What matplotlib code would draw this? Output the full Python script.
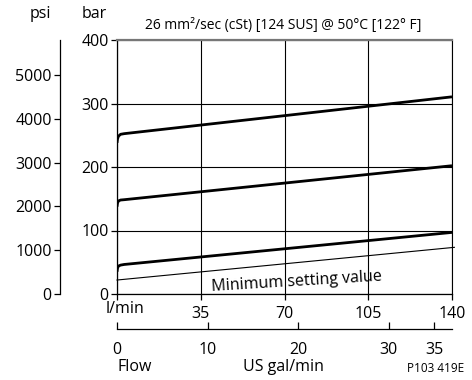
import matplotlib.pyplot as plt
import matplotlib.ticker as mticker

plt.rcParams['font.family'] = ['Open Sans', 'DejaVu Sans']

W, H = 472, 380

# ---- data (bar vs l/min) ----
flow_hi = [0, 0.2, 0.6, 1.5, 3, 140]
bar_hi = [238, 244, 248.5, 251.5, 252.5, 310.5]
flow_mid = [0, 0.2, 0.6, 1.5, 3, 140]
bar_mid = [137.5, 143, 146.5, 148, 148.5, 202]
flow_lo = [0, 0.2, 0.6, 1.5, 3, 140]
bar_lo = [35, 40.5, 44, 45.5, 46.5, 97]
flow_min = [0, 141]
bar_min = [22, 73.5]

lmin_ticks = [0, 35, 70, 105, 140]
lmin_labels = ["", "35", "70", "105", "140"]
bar_ticks = [0, 100, 200, 300, 400]
psi_ticks = [0, 1000, 2000, 3000, 4000, 5000]
gal_ticks = [0, 10, 20, 30, 35]

BAR2PSI = 14.5038
GAL2L = 3.78541
FS = 11.5

fig = plt.figure(figsize=(W / 100, H / 100), dpi=100)
x0, x1, y0, y1 = 117, 452, 294, 40
ax = fig.add_axes([x0 / W, 1 - y0 / H, (x1 - x0) / W, (y0 - y1) / H])

for xs, ys in [(flow_hi, bar_hi), (flow_mid, bar_mid), (flow_lo, bar_lo)]:
    ax.plot(xs, ys, color="black", lw=2.0, solid_capstyle="butt", zorder=3)
ax.plot(flow_min, bar_min, color="black", lw=0.8, zorder=3, clip_on=False)

ax.set_xlim(0, 140)
ax.set_ylim(0, 400)
ax.set_xticks(lmin_ticks)
ax.set_xticklabels(lmin_labels)
ax.set_yticks(bar_ticks)
ax.grid(True, color="black", lw=0.8)
ax.tick_params(axis="both", direction="out", length=4, width=0.9, labelsize=FS, pad=2)
ax.tick_params(axis="x", pad=5)
ax.spines["top"].set_color("#777777")
ax.spines["top"].set_linewidth(1.6)
ax.spines["right"].set_linewidth(0.8)
ax.spines["left"].set_linewidth(0.9)
ax.spines["bottom"].set_linewidth(0.9)
ax.set_axisbelow(True)

# psi axis
psi = ax.secondary_yaxis(-0.170, functions=(lambda b: b * BAR2PSI, lambda p: p / BAR2PSI))
psi.set_yticks(psi_ticks)
psi.tick_params(direction="out", length=4, width=0.9, labelsize=FS, pad=2)
psi.spines["left"].set_linewidth(0.9)

# US gal/min axis
gal = ax.secondary_xaxis(-0.138, functions=(lambda l: l / GAL2L, lambda g: g * GAL2L))
gal.set_xticks(gal_ticks)
gal.tick_params(direction="in", length=5, width=0.9, labelsize=FS, pad=9)
gal.spines["bottom"].set_linewidth(0.9)

def ptext(x, y, s, **kw):
    fig.text(x / W, 1 - y / H, s, ha="center", va="center", **kw)

ptext(297, 282, "Minimum setting value", fontsize=FS, rotation=3.5)
ptext(125, 309, "l/min", fontsize=FS)
ptext(283, 26, "26 mm²/sec (cSt) [124 SUS] @ 50°C [122° F]", fontsize=10)
ptext(40, 14, "psi", fontsize=FS)
ptext(94, 14, "bar", fontsize=FS)
ptext(135, 367, "Flow", fontsize=FS)
ptext(283, 367, "US gal/min", fontsize=FS)
ptext(436, 369, "P103 419E", fontsize=8.5)

fig.savefig("out.png", dpi=100)
